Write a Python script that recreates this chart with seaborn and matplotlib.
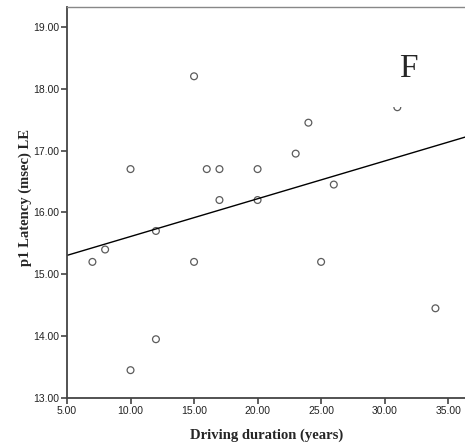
import matplotlib
matplotlib.use("Agg")
import matplotlib.pyplot as plt
import seaborn as sns
import pandas as pd

# The last point sits behind the white box of the "F" panel label (its partner at
# 31 / 17.7 is half covered by the same box); it is needed for the fitted line.
driving_years = [7, 8, 10, 10, 12, 12, 15, 15, 16, 17, 17, 20, 20, 23, 24, 25, 26, 31, 34, 30]
p1_latency = [15.2, 15.4, 16.7, 13.45, 15.7, 13.95, 18.2, 15.2, 16.7, 16.7, 16.2,
              16.7, 16.2, 16.95, 17.45, 15.2, 16.45, 17.7, 14.45, 18.2]
x_ticks = [5, 10, 15, 20, 25, 30, 35]
y_ticks = [13, 14, 15, 16, 17, 18, 19]

df = pd.DataFrame({"years": driving_years, "latency": p1_latency})

sns.set_style("ticks")
plt.rcParams["font.family"] = ["Liberation Sans", "DejaVu Sans"]

fig = plt.figure(figsize=(4.65, 4.44), dpi=100)
ax = fig.add_axes([67 / 465, 1 - 398 / 444, 1 - 67 / 465 + 0.002, (398 - 7) / 444])
ax.set_xlim(5, 36.4)
ax.set_ylim(13, 19.32)

sns.regplot(data=df, x="years", y="latency", ax=ax, ci=None, truncate=False,
            scatter_kws=dict(s=24, facecolors="none", edgecolors="#333333", linewidths=0.9),
            line_kws=dict(color="black", linewidth=1.0))

ax.set_xlim(5, 36.4)
ax.set_ylim(13, 19.32)
ax.set_xticks(x_ticks)
ax.set_yticks(y_ticks)
ax.set_xticklabels([f"{v:.2f}" for v in x_ticks])
ax.set_yticklabels([f"{v:.2f}" for v in y_ticks])
ax.tick_params(axis="both", labelsize=7.5, length=4, width=1.2, color="#444444",
               labelcolor="#222222", pad=1.5, direction="out")

for side in ["left", "bottom"]:
    ax.spines[side].set_color("#444444")
    ax.spines[side].set_linewidth(1.3)
ax.spines["top"].set_color("#888888")
ax.spines["top"].set_linewidth(1.0)
ax.spines["right"].set_color("#888888")

ax.set_xlabel("Driving duration (years)", family="Liberation Serif", fontweight="bold",
              fontsize=10.5, labelpad=9)
ax.set_ylabel("p1 Latency (msec) LE", family="Liberation Serif", fontweight="bold",
              fontsize=10.5)
ax.yaxis.set_label_coords(-0.088, 0.514)

ax.text(31.9, 18.19, "F", family="Liberation Serif", fontsize=24, ha="center",
        va="baseline", zorder=5,
        bbox=dict(boxstyle="square,pad=0.7", facecolor="white", edgecolor="none"))

fig.savefig("out.png", dpi=100)
